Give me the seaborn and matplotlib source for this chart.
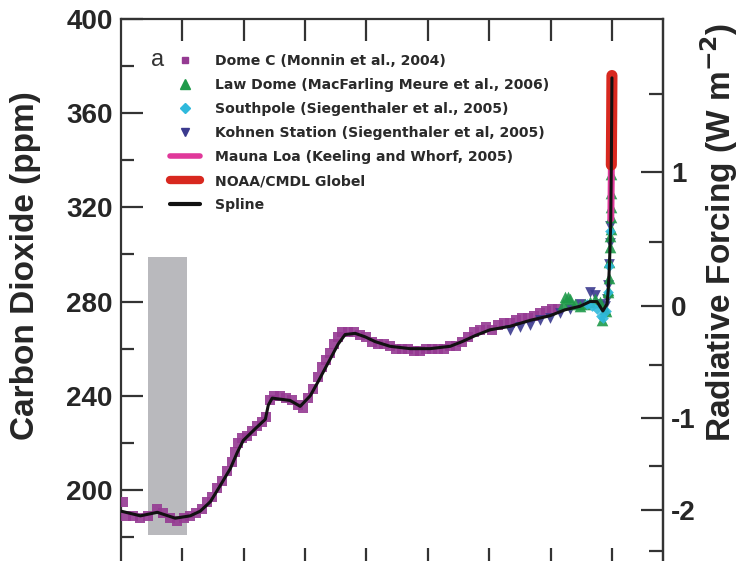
import numpy as np
import pandas as pd
import matplotlib
matplotlib.use("Agg")
import matplotlib.pyplot as plt
from matplotlib.lines import Line2D
import seaborn as sns

# ---------------- data (years before 2005, ppm) ----------------
domec_bp = [19900, 19780, 19500, 19210, 18880, 18520, 18270, 17990, 17700, 17420,
            17180, 16930, 16690, 16480, 16280, 16080, 15870, 15670, 15470, 15340,
            15220, 15060, 14860, 14650, 14450, 14250, 14080, 13920, 13760, 13510,
            13270, 13020, 12780, 12580, 12370, 12170, 11970, 11800, 11640, 11480,
            11310, 11150, 10990, 10740, 10500, 10260, 10010, 9770, 9520, 9280,
            9040, 8790, 8550, 8300, 8060, 7810, 7570, 7330, 7080, 6840,
            6590, 6350, 6110, 5860, 5620, 5370, 5130, 4880, 4640, 4400,
            4150, 3910, 3660, 3420, 3170, 2930, 2690, 2440, 2200]
domec_ppm = [195, 189, 189, 188, 189, 192, 190, 188, 187, 188,
             189, 190, 192, 195, 197, 201, 204, 208, 212, 216,
             220, 222, 223, 225, 227, 229, 231, 238, 240, 240,
             239, 238, 236, 235, 239, 243, 248, 252, 255, 258,
             262, 265, 267, 267, 267, 266, 265, 263, 262, 262,
             261, 260, 260, 260, 259, 259, 260, 260, 260, 260,
             261, 261, 263, 265, 267, 268, 269, 268, 270, 271,
             271, 272, 273, 273, 274, 275, 276, 277, 277]

lawdome_bp = [2000, 1900, 1800, 1700, 1500, 1300, 1100, 900, 700, 500, 400, 300, 250,
              180, 150, 120, 100, 80, 70, 55, 45, 38, 32, 27]
lawdome_ppm = [279, 282, 282, 281, 279, 278, 279, 280, 281, 280, 272, 277, 276,
               284, 285, 290, 297, 303, 308, 311, 316, 320, 326, 334]

southpole_bp = [1000, 800, 600, 450, 350, 250, 150, 100, 60]
southpole_ppm = [279, 278, 277, 274, 273, 276, 284, 295, 310]

kohnen_bp = [4150, 3745, 3340, 2930, 2520, 2115, 1710, 1300, 895, 690, 490, 285,
             200, 150, 110, 80, 60]
kohnen_ppm = [268, 269, 270, 272, 273, 275, 277, 279, 284, 283, 279, 278,
              281, 287, 296, 305, 312]

maunaloa_bp = [47, 45, 40, 35, 30, 25, 20, 15, 10, 5, 0]
maunaloa_ppm = [315, 317, 320, 325, 330, 337, 344, 352, 358, 367, 375]

noaa_bp = [25, 20, 15, 10, 5, 0]
noaa_ppm = [338, 345, 353, 359, 368, 376]

spline_bp = [20000, 19210, 18520, 17790, 17180, 16770, 16360, 15950, 15550, 15260,
             15020, 14530, 14120, 14000, 13840, 13110, 12700, 12290, 11970, 11560,
             11150, 10870, 10460, 10050, 9650, 9040, 8220, 7410, 6590, 6100,
             5580, 4970, 4150, 3340, 2520, 1910, 1300, 895, 610, 370, 200,
             150, 100, 50, 25, 0]
spline_ppm = [191, 189, 190.5, 188, 189, 191, 195, 202, 209, 216,
              221, 226, 230, 236, 239, 238, 235.5, 240, 246, 254,
              262, 266, 266.5, 265, 263, 261, 260, 260, 261, 263,
              265.5, 268, 269.5, 272, 274, 276.5, 278, 280, 280, 276, 279,
              285, 296, 313, 338, 375]

glacial_bar_bp = [18900, 17300]      # left / right edge of grey bar
glacial_bar_ppm = [181, 299]         # bottom / top of grey bar

xticks_bp = [17500, 15000, 12500, 10000, 7500, 5000, 2500, 0]
yticks_ppm = [200, 240, 280, 320, 360, 400]
yminor_ppm = [180, 220, 260, 300, 340, 380]
rf_major = [-2, -1, 0, 1]
rf_minor = [-2.5, -1.5, -0.5, 0.5, 1.5]

labels = ["Dome C (Monnin et al., 2004)",
          "Law Dome (MacFarling Meure et al., 2006)",
          "Southpole (Siegenthaler et al., 2005)",
          "Kohnen Station (Siegenthaler et al, 2005)",
          "Mauna Loa (Keeling and Whorf, 2005)",
          "NOAA/CMDL Globel",
          "Spline"]
colors = ["#953a92", "#1f9a4a", "#2fb9dc", "#3b3a8e", "#e0389a", "#d8281f", "#111111"]

# ---------------- plotting ----------------
sns.set_theme(style="ticks")
plt.rcParams["font.family"] = ["Liberation Sans", "DejaVu Sans"]
plt.rcParams["font.weight"] = "bold"
plt.rcParams["mathtext.default"] = "bf"

fig = plt.figure(figsize=(7.39, 5.61), dpi=100)
ax = fig.add_axes([121/739, (561-570)/561, (663-121)/739, (570-19)/561])

# grey bar
ax.bar(x=(glacial_bar_bp[0] + glacial_bar_bp[1]) / 2,
       height=glacial_bar_ppm[1] - glacial_bar_ppm[0],
       bottom=glacial_bar_ppm[0],
       width=glacial_bar_bp[0] - glacial_bar_bp[1],
       color="#b9b9bd", zorder=1, linewidth=0)

sns.scatterplot(x=domec_bp, y=domec_ppm, marker="s", s=60, color=colors[0],
                linewidth=0, alpha=0.9, ax=ax, zorder=3, legend=False)
sns.scatterplot(x=kohnen_bp, y=kohnen_ppm, marker="v", s=60, color=colors[3],
                linewidth=0, alpha=0.9, ax=ax, zorder=4, legend=False)
sns.scatterplot(x=lawdome_bp, y=lawdome_ppm, marker="^", s=70, color=colors[1],
                linewidth=0, alpha=0.9, ax=ax, zorder=4, legend=False)
sns.scatterplot(x=southpole_bp, y=southpole_ppm, marker="D", s=30, color=colors[2],
                linewidth=0, alpha=0.9, ax=ax, zorder=4, legend=False)
sns.lineplot(x=maunaloa_bp, y=maunaloa_ppm, color=colors[4], lw=5, ax=ax,
             estimator=None, sort=False, zorder=5, legend=False)
sns.lineplot(x=noaa_bp, y=noaa_ppm, color=colors[5], lw=8, ax=ax,
             estimator=None, sort=False, zorder=6, legend=False)
sns.lineplot(x=spline_bp, y=spline_ppm, color=colors[6], lw=2.2, ax=ax,
             estimator=None, sort=False, zorder=7, legend=False)

ax.set_xlim(20000, -2080)
ax.set_ylim(166, 400)
ax.set_xticks(xticks_bp)
ax.set_xticklabels([])
ax.set_yticks(yticks_ppm)
ax.set_yticks(yminor_ppm, minor=True)
ax.set_yticklabels([str(v) for v in yticks_ppm], fontsize=20, fontweight="bold")
ax.tick_params(axis="x", which="major", direction="in", length=16, width=1.6,
               top=True, bottom=True, color="#333333")
ax.tick_params(axis="y", which="major", direction="in", length=16, width=1.6,
               left=True, right=False, pad=6, color="#333333")
ax.tick_params(axis="y", which="minor", direction="in", length=9, width=1.6,
               left=True, right=False, color="#333333")
for sp in ax.spines.values():
    sp.set_linewidth(1.6)
    sp.set_color("#333333")
ax.set_xlabel("")
ax.set_ylabel("Carbon Dioxide (ppm)", fontsize=24, fontweight="bold")
ax.yaxis.set_label_coords(-0.147, 0.552)

# secondary axis: radiative forcing
def ppm_to_rf(c):
    c = np.asarray(c, dtype=float)
    return 5.35 * np.log(np.clip(c, 1e-6, None) / 278.0)

def rf_to_ppm(r):
    return 278.0 * np.exp(np.asarray(r, dtype=float) / 5.35)

sec = ax.secondary_yaxis("right", functions=(ppm_to_rf, rf_to_ppm))
sec.set_yticks(rf_major)
sec.set_yticks(rf_minor, minor=True)
sec.set_yticklabels([str(v) for v in rf_major], fontsize=20, fontweight="bold")
sec.tick_params(axis="y", which="major", direction="in", length=16, width=1.6,
                pad=6, color="#333333")
sec.tick_params(axis="y", which="minor", direction="in", length=10, width=1.6,
                color="#333333")
sec.spines["right"].set_linewidth(1.6)
sec.spines["right"].set_color("#333333")
fig.text(719/739, 1 - 232/561, r"Radiative Forcing (W m$^{-2}$)", rotation=90,
         fontsize=24, fontweight="bold", ha="center", va="center", color="#262626")

# legend
handles = [
    Line2D([], [], ls="none", marker="s", ms=5, color=colors[0]),
    Line2D([], [], ls="none", marker="^", ms=7, color=colors[1]),
    Line2D([], [], ls="none", marker="D", ms=5, color=colors[2]),
    Line2D([], [], ls="none", marker="v", ms=6, color=colors[3]),
    Line2D([], [], lw=4, color=colors[4]),
    Line2D([], [], lw=6, color=colors[5]),
    Line2D([], [], lw=3, color=colors[6]),
]
leg = ax.legend(handles, labels, loc="upper left", bbox_to_anchor=(0.08, 0.946),
                frameon=False,
                prop={"size": 10.1, "weight": "bold", "family": "DejaVu Sans"},
                handlelength=2.15, handletextpad=1.07, labelspacing=0.71,
                borderaxespad=0)
for t in leg.get_texts():
    t.set_color("#2a2a2a")
ax.text(158/739, 1 - 60/561, "a", transform=fig.transFigure, fontsize=17,
        fontweight="normal", ha="center", va="center", color="#333333")

fig.savefig("out.png", dpi=100)
